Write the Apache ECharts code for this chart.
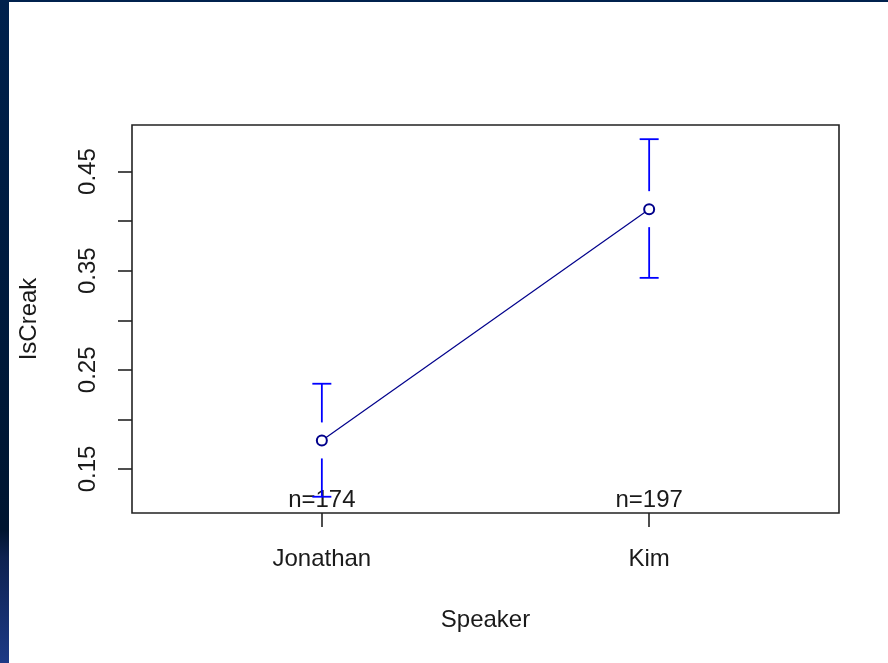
<!DOCTYPE html>
<html>
<head>
<meta charset="utf-8">
<script src="https://cdn.jsdelivr.net/npm/echarts@6/dist/echarts.min.js"></script>
<style>
html,body{margin:0;padding:0;background:#fff;}
#chart{width:888px;height:663px;}
</style>
</head>
<body>
<div id="chart"></div>
<script>
// ---- data ----
const categories = ["Jonathan", "Kim"];
const means = [0.1788, 0.4121];
const upper = [0.236, 0.4827];
const lower = [0.122, 0.3428];
const nLabels = ["n=174", "n=197"];
const yTicks = [0.15, 0.20, 0.25, 0.30, 0.35, 0.40, 0.45];
const yLabels = [0.15, 0.25, 0.35, 0.45];

const FONT = "'Liberation Sans', Arial, sans-serif";
const TXT = '#1a1a1a';

const chart = echarts.init(document.getElementById('chart'), null, {renderer: 'canvas'});

const pts = categories.map((c, i) => [i + 1, means[i]]);
const bars = categories.map((c, i) => [i + 1, means[i], lower[i], upper[i]]);
const nData = categories.map((c, i) => [i + 1, nLabels[i]]);

const option = {
  backgroundColor: '#ffffff',
  animation: false,
  graphic: [
    {type: 'rect', shape: {x: 0, y: 0, width: 9, height: 663}, z: 100,
     style: {fill: new echarts.graphic.LinearGradient(0, 0, 0, 1, [
       {offset: 0, color: '#00214d'},
       {offset: 0.8, color: '#001530'},
       {offset: 0.84, color: '#0e2250'},
       {offset: 1, color: '#1d3a86'}])}},
    {type: 'rect', shape: {x: 0, y: 0, width: 888, height: 2}, z: 100, style: {fill: '#00214d'}}
  ],
  grid: {left: 132, top: 125, right: 49, bottom: 150, show: true,
         borderColor: '#222', borderWidth: 1.6, backgroundColor: 'transparent'},
  xAxis: {
    type: 'value', min: 0.42, max: 2.58,
    axisLine: {show: false},
    splitLine: {show: false},
    axisTick: {show: true, customValues: [1, 2], length: 14, inside: false,
               lineStyle: {color: '#222', width: 1.6}},
    axisLabel: {customValues: [1, 2], margin: 34, fontSize: 24, fontFamily: FONT, color: TXT,
                formatter: v => categories[Math.round(v) - 1] || ''},
    name: 'Speaker', nameLocation: 'middle', nameGap: 95,
    nameTextStyle: {fontSize: 24, fontFamily: FONT, color: TXT}
  },
  yAxis: {
    type: 'value', min: 0.1056, max: 0.497,
    axisLine: {show: false},
    splitLine: {show: false},
    axisTick: {show: true, customValues: yTicks, length: 14, inside: false,
               lineStyle: {color: '#222', width: 1.6}},
    axisLabel: {customValues: yLabels, rotate: 90, margin: 32, fontSize: 24, fontFamily: FONT, color: TXT,
                formatter: v => v.toFixed(2)},
    name: 'IsCreak', nameLocation: 'middle', nameGap: 91, nameRotate: 90,
    nameTextStyle: {fontSize: 24, fontFamily: FONT, color: TXT}
  },
  series: [
    {
      type: 'custom',
      data: nData,
      z: 3,
      renderItem: function (params, api) {
        const p = api.coord([api.value(0), 0.1056]);
        return {type: 'text', x: p[0], y: p[1] - 13,
          style: {text: nLabels[params.dataIndex], fontSize: 24, fontFamily: FONT, fill: TXT,
                  align: 'center', verticalAlign: 'middle'}};
      }
    },
    {
      type: 'line',
      data: pts,
      z: 4,
      symbol: 'emptyCircle',
      symbolSize: 10,
      lineStyle: {color: '#00008B', width: 1.2},
      itemStyle: {color: '#00008B', borderColor: '#00008B', borderWidth: 1.4}
    },
    {
      type: 'custom',
      data: bars,
      z: 5,
      renderItem: function (params, api) {
        const x = api.value(0);
        const m = api.coord([x, api.value(1)]);
        const lo = api.coord([x, api.value(2)]);
        const hi = api.coord([x, api.value(3)]);
        const gap = 18, cap = 9.5;
        const st = {stroke: '#0000FF', lineWidth: 1.8};
        return {type: 'group', children: [
          {type: 'line', shape: {x1: m[0], y1: hi[1], x2: m[0], y2: m[1] - gap}, style: st},
          {type: 'line', shape: {x1: m[0], y1: m[1] + gap, x2: m[0], y2: lo[1]}, style: st},
          {type: 'line', shape: {x1: m[0] - cap, y1: hi[1], x2: m[0] + cap, y2: hi[1]}, style: st},
          {type: 'line', shape: {x1: m[0] - cap, y1: lo[1], x2: m[0] + cap, y2: lo[1]}, style: st}
        ]};
      }
    }
  ]
};
chart.setOption(option);
</script>
</body>
</html>
